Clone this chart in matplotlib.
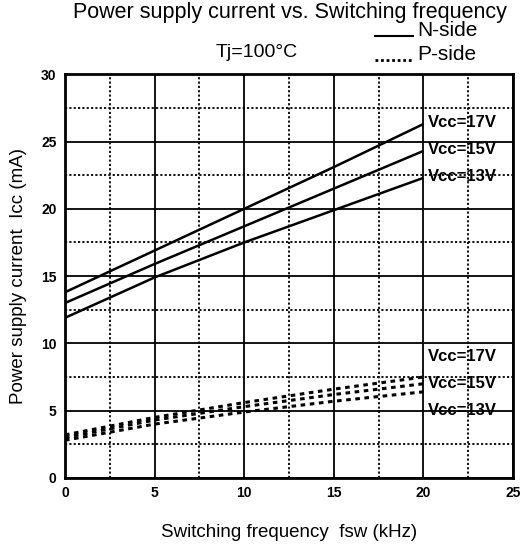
import matplotlib
matplotlib.use('Agg')
import matplotlib.pyplot as plt
from matplotlib.lines import Line2D

plt.rcParams['font.family'] = ['Liberation Sans', 'DejaVu Sans']

# frequency points (kHz)
fsw = [0, 5, 10, 15, 20]

# N-side supply current (mA)
n_17v = [13.8, 16.9, 20.0, 23.1, 26.3]
n_15v = [13.0, 15.9, 18.7, 21.5, 24.3]
n_13v = [11.9, 14.9, 17.5, 19.9, 22.3]

# P-side supply current (mA)
p_17v = [3.2, 4.5, 5.6, 6.6, 7.5]
p_15v = [3.0, 4.3, 5.3, 6.2, 7.0]
p_13v = [2.8, 4.0, 4.9, 5.7, 6.4]

vcc_labels = ['Vcc=17V', 'Vcc=15V', 'Vcc=13V']

fig = plt.figure(figsize=(5.24, 5.5), dpi=100)
ax = fig.add_axes([0.124, 0.131, 0.855, 0.734])

ax.set_xlim(0, 25)
ax.set_ylim(0, 30)
ax.set_xticks([0, 5, 10, 15, 20, 25])
ax.set_yticks([0, 5, 10, 15, 20, 25, 30])
ax.set_xticks([2.5, 7.5, 12.5, 17.5, 22.5], minor=True)
ax.set_yticks([2.5, 7.5, 12.5, 17.5, 22.5, 27.5], minor=True)
ax.grid(True, which='major', color='black', linestyle='-', linewidth=1.3)
ax.grid(True, which='minor', color='black', linestyle=(0, (1.2, 1.2)), linewidth=1.3)
ax.tick_params(which='both', length=0, pad=6)
for lbl in ax.get_xticklabels() + ax.get_yticklabels():
    lbl.set_fontweight('bold')
    lbl.set_fontsize(10)
for s in ax.spines.values():
    s.set_linewidth(2)
ax.set_axisbelow(True)

for ys in (n_17v, n_15v, n_13v):
    ax.plot(fsw, ys, color='black', linewidth=1.8, solid_capstyle='butt')
for ys in (p_17v, p_15v, p_13v):
    ax.plot(fsw, ys, color='black', linewidth=2.2, linestyle=(0, (1.5, 1.5)))

label_font = dict(fontsize=12, fontweight='bold')
for lbl, ys in zip(vcc_labels, (n_17v, n_15v, n_13v)):
    ax.text(20.25, ys[-1] + 0.1, lbl, ha='left', va='center', **label_font)
for lbl, y in zip(vcc_labels, (9.0, 7.0, 5.0)):
    ax.text(20.25, y, lbl, ha='left', va='center', **label_font)

ax.set_xlabel('Switching frequency  fsw (kHz)', fontsize=13.5, labelpad=17)
ax.set_ylabel('Power supply current  Icc (mA)', fontsize=13.5, labelpad=10)

fig.text(0.553, 0.978, 'Power supply current vs. Switching frequency', ha='center', va='center', fontsize=15.5)
fig.text(0.49, 0.905, 'Tj=100°C', ha='center', va='center', fontsize=14)

# legend keys drawn at the text baseline, as in the original
fig.add_artist(Line2D([0.716, 0.788], [0.934, 0.934], color='black', linewidth=1.5))
fig.add_artist(Line2D([0.716, 0.788], [0.891, 0.891], color='black', linewidth=2,
                      linestyle=(0, (1, 1))))
fig.text(0.796, 0.934, 'N-side', ha='left', va='baseline', fontsize=15)
fig.text(0.796, 0.891, 'P-side', ha='left', va='baseline', fontsize=15)

plt.savefig('out.png', dpi=100)
